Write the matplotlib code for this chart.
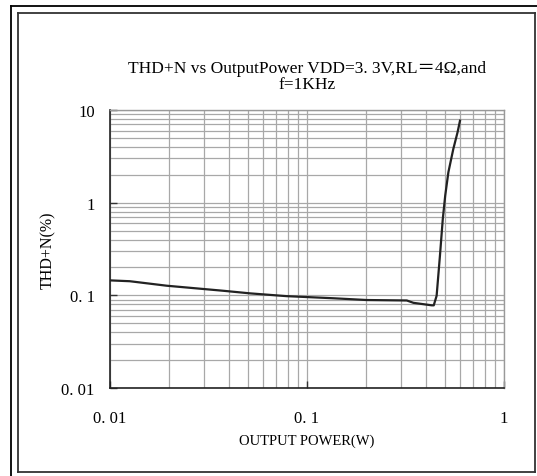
import matplotlib.pyplot as plt
from matplotlib.lines import Line2D
from matplotlib.ticker import FixedLocator, NullFormatter

# THD+N curve
power = [0.01, 0.0126, 0.0194, 0.0376, 0.0514, 0.0788, 0.136, 0.201, 0.321,
         0.347, 0.43, 0.44, 0.455, 0.473, 0.489, 0.503, 0.522, 0.553, 0.581, 0.598]
thd = [0.145, 0.142, 0.127, 0.112, 0.105, 0.098, 0.093, 0.089, 0.088,
       0.083, 0.078, 0.078, 0.099, 0.268, 0.667, 1.19, 2.13, 3.8, 5.74, 7.67]

xticks = [0.01, 0.1, 1]
xticklabels = ['0. 01', '0. 1', '1']
yticks = [0.01, 0.1, 1, 10]
yticklabels = ['0. 01', '0. 1', '1', '10']

plt.rcParams['font.family'] = ['Liberation Serif', 'Noto Sans CJK SC', 'DejaVu Serif']

W, H = 537, 477
fig = plt.figure(figsize=(W / 100, H / 100), dpi=100)
ax = fig.add_axes([110 / W, 1 - 389 / H, 394 / W, 278 / H])

ax.plot(power, thd, color='#222222', lw=1.6, zorder=3)

ax.set_xscale('log')
ax.set_yscale('log')
ax.set_xlim(0.01, 1)
ax.set_ylim(0.01, 10)

minor = [m * 10.0 ** e for e in range(-3, 2) for m in range(2, 10)]
ax.xaxis.set_major_locator(FixedLocator(xticks))
ax.yaxis.set_major_locator(FixedLocator(yticks))
ax.xaxis.set_minor_locator(FixedLocator(minor))
ax.yaxis.set_minor_locator(FixedLocator(minor))
ax.xaxis.set_minor_formatter(NullFormatter())
ax.yaxis.set_minor_formatter(NullFormatter())
ax.set_xticklabels(xticklabels)
ax.set_yticklabels(yticklabels)

ax.grid(True, which='both', color='#a8a8a8', lw=0.9)
ax.tick_params(which='major', direction='in', length=5, width=1,
               labelsize=12, color='#333333')
ax.tick_params(axis='x', pad=16)
ax.tick_params(axis='y', pad=11)
ax.tick_params(which='minor', length=0)

for side in ['left', 'bottom']:
    ax.spines[side].set_color('#222222')
    ax.spines[side].set_linewidth(1.2)
for side in ['top', 'right']:
    ax.spines[side].set_color('#999999')
    ax.spines[side].set_linewidth(1.0)

ax.set_title('THD+N vs OutputPower VDD=3. 3V,RL\uff1d4\u03a9,and\nf=1KHz',
             fontsize=12.5, pad=15.5, linespacing=1.05)
ax.set_xlabel('OUTPUT POWER(W)', fontsize=10.5, labelpad=5)
ax.set_ylabel('THD+N(%)', fontsize=11.5, labelpad=4)

# frames around the chart
def px_line(x0, y0, x1, y1, **kw):
    fig.add_artist(Line2D([x0 / W, x1 / W], [1 - y0 / H, 1 - y1 / H],
                          transform=fig.transFigure, **kw))

px_line(11, 6.5, W, 6.5, color='black', lw=1.3)
px_line(11, 6.5, 11, H, color='black', lw=1.3)
px_line(18, 14, 535, 14, color='#333333', lw=1.3)
px_line(18, 14, 18, 473, color='#333333', lw=1.3)
px_line(18, 473, 535, 473, color='#333333', lw=1.3)
px_line(535, 14, 535, 473, color='#333333', lw=1.3)

fig.savefig('out.png', dpi=100)
